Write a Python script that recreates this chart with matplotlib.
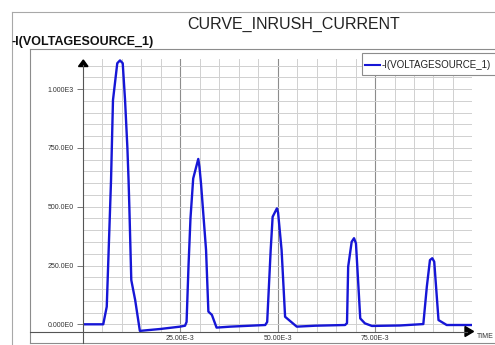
import numpy as np
import matplotlib
matplotlib.use("Agg")
import matplotlib.pyplot as plt
from matplotlib import transforms
from matplotlib.lines import Line2D
from matplotlib.patches import Rectangle, Polygon

plt.rcParams["font.family"] = ["Liberation Sans", "DejaVu Sans"]

# inrush current (time in ms, current in A)
time_ms = [0.0, 5.2, 6.1, 7.2, 7.4, 7.7, 8.8, 9.5, 10.2, 10.8, 11.4, 11.7, 11.9, 12.4, 13.4, 14.6,
           19.8, 24.9, 26.2, 26.6, 27.1, 27.6, 28.3, 29.6, 29.9, 30.3, 31.6, 32.2, 33.1, 34.3,
           37.8, 42.9, 46.8, 47.3, 48.2, 48.7, 49.8, 50.1, 51.0, 51.9, 54.9,
           59.6, 67.3, 67.8, 68.1, 69.0, 69.6, 70.1, 71.2, 72.4, 74.2,
           81.4, 87.4, 88.3, 89.1, 89.7, 90.2, 91.3, 93.4, 99.8]
current = [0, 0, 75, 613, 750, 953, 1110, 1122, 1110, 953, 750, 613, 500, 188, 103, -28,
           -20, -10, -6, 10, 250, 450, 620, 703, 670, 600, 316, 54, 40, -14,
           -10, -6, -3, 10, 316, 457, 493, 475, 316, 32, -10,
           -6, -3, 5, 245, 351, 366, 344, 25, 4, -7,
           -5, 1, 160, 273, 281, 266, 18, -3, -3]

series_name = "-I(VOLTAGESOURCE_1)"
title = "CURVE_INRUSH_CURRENT"

y_ticks = [0, 250, 500, 750, 1000]
y_labels = ["0.000E0", "250.0E0", "500.0E0", "750.0E0", "1.000E3"]
y_minor = [50, 100, 150, 200, 300, 350, 400, 450, 550, 600, 650, 700,
           800, 850, 900, 950, 1050, 1100]
x_ticks = [0.025, 0.050, 0.075]
x_labels = ["25.00E-3", "50.00E-3", "75.00E-3"]
x_minor = [0.005, 0.010, 0.015, 0.020, 0.030, 0.035, 0.040, 0.045, 0.055, 0.060,
           0.065, 0.070, 0.080, 0.085, 0.090, 0.095]

W, H = 495, 345
fig = plt.figure(figsize=(W / 100, H / 100), dpi=100)
# pixel coords (origin top-left) -> figure
pix = transforms.Affine2D().scale(1 / W, -1 / H).translate(0, 1) + fig.transFigure

left, right, top, bottom = 83, 472, 59, 331.5
ax = fig.add_axes([left / W, (H - bottom) / H, (right - left) / W, (bottom - top) / H])

t = np.array(time_ms) * 1e-3
ax.plot(t, current, color="#1616d6", lw=1.7, solid_joinstyle="round")

ax.set_xlim(0, 0.0999)
ax.set_ylim(-30.6, 1128)
for s in ax.spines.values():
    s.set_visible(False)

ax.set_xticks(x_ticks)
ax.set_xticklabels(x_labels)
ax.set_xticks(x_minor, minor=True)
ax.set_yticks(y_ticks)
ax.set_yticklabels(y_labels)
ax.set_yticks(y_minor, minor=True)
ax.tick_params(axis="x", which="both", length=0, pad=2.2, labelsize=5, labelcolor="#333333")
ax.tick_params(axis="y", which="major", length=4.3, width=0.7, color="#777777",
               pad=2.2, labelsize=5, labelcolor="#333333")
ax.tick_params(axis="y", which="minor", length=0)

ax.set_axisbelow(True)
ax.xaxis.grid(True, which="major", color="#8c8c8c", lw=0.8)
ax.xaxis.grid(True, which="minor", color="#d0d0d0", lw=0.7)
ax.yaxis.grid(True, which="both", color="#d0d0d0", lw=0.7)

# frames
fig.add_artist(Line2D([12, 12], [12, H], transform=pix, color="#a8a8a8", lw=0.8))
fig.add_artist(Line2D([12, W], [12, 12], transform=pix, color="#a8a8a8", lw=0.8))
fig.add_artist(Line2D([30, W], [49, 49], transform=pix, color="#8c8c8c", lw=0.8))
fig.add_artist(Line2D([30, 30], [49, 343], transform=pix, color="#8c8c8c", lw=0.8))
fig.add_artist(Line2D([30, W], [343, 343], transform=pix, color="#8c8c8c", lw=0.8))

# axis lines with arrows
fig.add_artist(Line2D([30, 467], [bottom, bottom], transform=pix, color="#555555", lw=0.8))
fig.add_artist(Line2D([83, 83], [65, 343], transform=pix, color="#555555", lw=0.8))
fig.add_artist(Polygon([(78.5, 66.5), (88, 66.5), (83.3, 60)], closed=True,
                       transform=pix, color="black"))
fig.add_artist(Polygon([(465, 326.5), (465, 336.5), (473.5, 331.5)], closed=True,
                       transform=pix, color="black"))
fig.text(477, 336.5, "TIME", transform=pix, fontsize=5, ha="left", va="center",
         color="#333333")

# legend box
fig.add_artist(Rectangle((361.5, 53), 140, 22, transform=pix, facecolor="white",
                         edgecolor="#8c8c8c", lw=0.8))
fig.add_artist(Line2D([365, 380], [64.5, 64.5], transform=pix, color="#1616d6", lw=1.5))
fig.text(381.5, 64.8, series_name, transform=pix, fontsize=7, ha="left", va="center",
         color="#222222")

# titles
fig.text(294, 24, title, transform=pix, fontsize=11.5, ha="center", va="center",
         color="#222222")
fig.text(12, 41.7, series_name, transform=pix, fontsize=9, fontweight="bold",
         ha="left", va="center", color="#111111")

fig.savefig("out.png", dpi=100)
